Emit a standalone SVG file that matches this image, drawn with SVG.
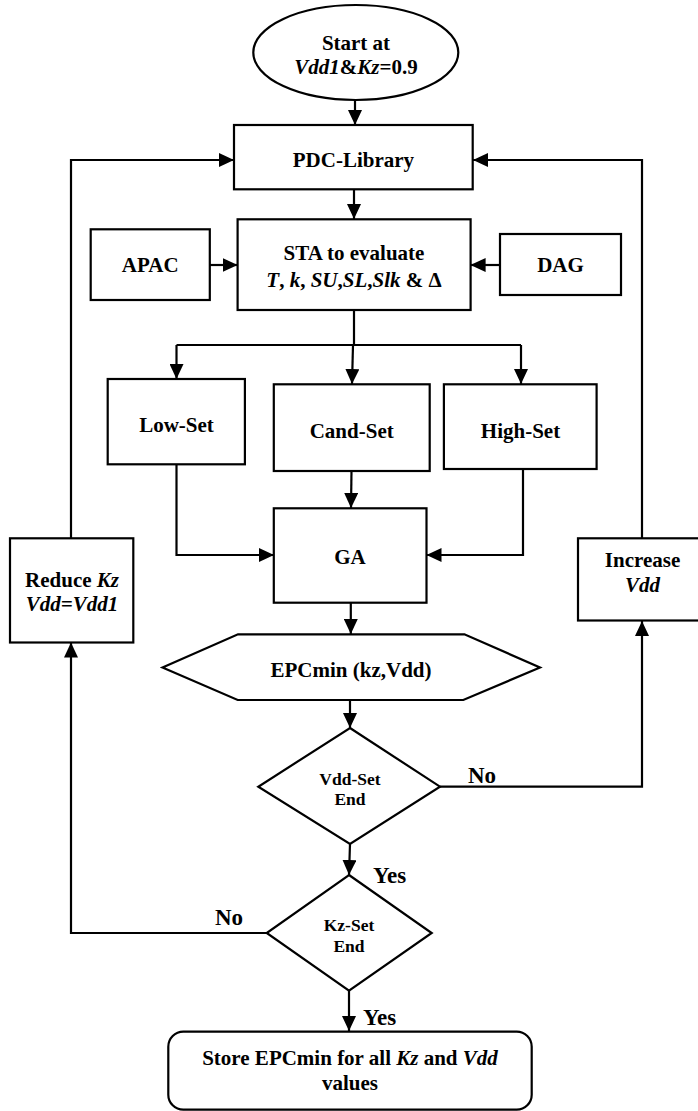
<svg xmlns="http://www.w3.org/2000/svg" width="698" height="1111" viewBox="0 0 698 1111">
<defs>
<style>
.s{fill:#fff;stroke:#000;stroke-width:2.2}
.c{fill:none;stroke:#000;stroke-width:2.2;marker-end:url(#ah)}
.l{fill:none;stroke:#000;stroke-width:2.2}
text{font-family:"Liberation Serif","Times New Roman",serif;font-weight:bold;fill:#000;text-anchor:middle}
.t{font-size:21px}
.d{font-size:17.5px}
.y{font-size:23px;text-anchor:start}
.i{font-style:italic}
</style>
<marker id="ah" markerUnits="userSpaceOnUse" markerWidth="15" markerHeight="14" refX="15" refY="7" orient="auto">
<path d="M0,0 L15,7 L0,14 z" fill="#000"/>
</marker>
</defs>
<rect width="698" height="1111" fill="#fff"/>
<g id="connectors">
<path class="c" d="M355,100 L355,125"/>
<path class="c" d="M71,538 L71,160 L234,160"/>
<path class="c" d="M642,538 L642,160 L473,160"/>
<path class="c" d="M354,189 L354,219"/>
<path class="c" d="M210,265 L237.6,265"/>
<path class="c" d="M500,265 L470.6,265"/>
<path class="l" d="M354,310 L354,345 M176.5,345 L521,345"/>
<path class="c" d="M176.5,345 L176.5,379"/>
<path class="c" d="M353,345 L352,384"/>
<path class="c" d="M521,345 L521,384"/>
<path class="c" d="M176.5,464 L176.5,555 L274,555"/>
<path class="c" d="M523,469 L523,555 L426.5,555"/>
<path class="c" d="M351.5,471 L351,508"/>
<path class="c" d="M350.8,603 L350.8,634"/>
<path class="c" d="M350,700 L350,728"/>
<path class="c" d="M440,786.7 L642,786.7 L642,621"/>
<path class="c" d="M350,844 L349,875"/>
<path class="c" d="M266.7,933 L71,933 L71,642.5"/>
<path class="c" d="M349,991 L349,1031"/>
<text class="y" x="468" y="783">No</text>
<text class="y" x="373" y="883">Yes</text>
<text class="y" x="215" y="925">No</text>
<text class="y" x="363" y="1025">Yes</text>
</g>
<g id="start">
<ellipse class="s" cx="355.8" cy="52.5" rx="102.5" ry="47.5"/>
<text class="t" x="356" y="50">Start at</text>
<text class="t" x="356" y="74"><tspan class="i">Vdd1</tspan>&amp;<tspan class="i">Kz</tspan>=0.9</text>
</g>
<g id="pdc">
<rect class="s" x="234" y="125" width="238.7" height="64.3"/>
<text class="t" x="353.4" y="167">PDC-Library</text>
</g>
<g id="sta">
<rect class="s" x="237.6" y="219.3" width="233" height="90.7"/>
<text class="t" x="354" y="260">STA to evaluate</text>
<text class="t" x="354" y="287"><tspan class="i">T</tspan>, <tspan class="i">k</tspan>, <tspan class="i">SU</tspan>,<tspan class="i">SL</tspan>,<tspan class="i">Slk</tspan> &amp; Δ</text>
</g>
<g id="apac">
<rect class="s" x="90.7" y="229.3" width="119.1" height="70.7"/>
<text class="t" x="150.2" y="272">APAC</text>
</g>
<g id="dag">
<rect class="s" x="500" y="234" width="121" height="61"/>
<text class="t" x="560.5" y="272">DAG</text>
</g>
<g id="lowset">
<rect class="s" x="107.7" y="379" width="137.2" height="85.3"/>
<text class="t" x="176.5" y="432">Low-Set</text>
</g>
<g id="candset">
<rect class="s" x="273.8" y="384.3" width="155.9" height="86.7"/>
<text class="t" x="351.7" y="438">Cand-Set</text>
</g>
<g id="highset">
<rect class="s" x="443.9" y="384.3" width="152.7" height="84.7"/>
<text class="t" x="520.5" y="438">High-Set</text>
</g>
<g id="ga">
<rect class="s" x="273.8" y="508.3" width="152.7" height="94.4"/>
<text class="t" x="350" y="564">GA</text>
</g>
<g id="reduce">
<rect class="s" x="10" y="538.3" width="123.3" height="104.2"/>
<text class="t" x="72" y="587">Reduce <tspan class="i">Kz</tspan></text>
<text class="t i" x="72" y="611">Vdd=Vdd1</text>
</g>
<g id="increase">
<rect class="s" x="578" y="538.3" width="130" height="82.2"/>
<text class="t" x="642.5" y="567">Increase</text>
<text class="t i" x="642.5" y="592">Vdd</text>
</g>
<g id="epcmin">
<polygon class="s" points="162.5,667.5 238,634.3 464.4,634.3 540,667.5 463.3,700 237.7,700"/>
<text class="t" x="351" y="677">EPCmin (kz,Vdd)</text>
</g>
<g id="vddset">
<polygon class="s" points="350,728 440,786.7 350,844 258.3,786.7"/>
<text class="d" x="350" y="785">Vdd-Set</text>
<text class="d" x="350" y="805">End</text>
</g>
<g id="kzset">
<polygon class="s" points="349,875 431.7,933 349,990.7 266.7,933"/>
<text class="d" x="349" y="931">Kz-Set</text>
<text class="d" x="349" y="952">End</text>
</g>
<g id="store">
<rect class="s" x="168.3" y="1031.7" width="363.4" height="78" rx="15"/>
<text class="t" x="350" y="1065">Store EPCmin for all <tspan class="i">Kz</tspan> and <tspan class="i">Vdd</tspan></text>
<text class="t" x="350" y="1090">values</text>
</g>
</svg>
